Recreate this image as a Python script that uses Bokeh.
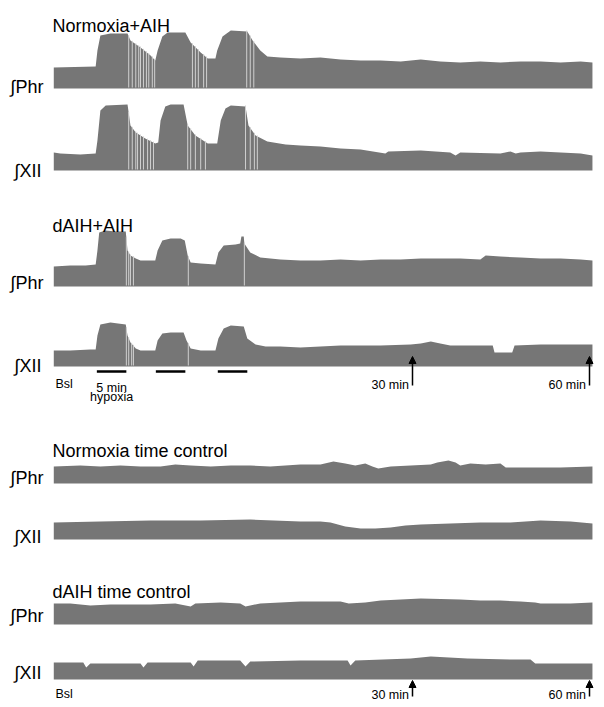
import numpy as np
from bokeh.plotting import figure
from bokeh.models import Range1d, Arrow, NormalHead
from bokeh.core.properties import value
from bokeh.embed import file_html
from bokeh.resources import INLINE

# ---------------- data (time in min relative to end of AIH; amplitude in a.u.) ----------------
# Normoxia+AIH, integrated phrenic
naih_phr_t = [-30.8,-23.7,-23.4,-22.9,-21.2,-18.3,-17.8,-16.1,-14.4,-13.6,-13.2,-12.4,-11.5,-8.5,-7.6,-5.9,-4.7,-3.4,-3.1,-2.2,
              -0.8,2.0,2.9,4.2,5.4,7.6,11.0,14.4,17.8,21.2,24.6,28.0,31.4,34.7,38.1,41.5,44.9,48.3,51.7,55.1,58.5,60.5]
naih_phr_a = [21,22,38,53,55,55,48,41,33,28,38,52,56,56,46,36,30,30,38,52,
              58,57,48,38,32,31,30,31,29,28,28,27,29,27,26,27,26,27,27,26,27,26]
# Normoxia+AIH, integrated XII
naih_xii_t = [-30.8,-29.7,-26.3,-23.7,-23.4,-22.9,-22.0,-18.3,-17.8,-16.9,-15.3,-13.6,-13.1,-12.7,-11.9,-11.0,-8.8,-8.1,-6.8,-4.7,
              -3.1,-2.5,-1.7,-0.8,1.7,2.2,3.4,5.4,8.5,11.0,14.4,17.8,21.2,25.4,25.9,31.4,36.4,37.3,38.1,44.9,46.6,47.5,48.3,51.7,55.1,58.5,60.5]
naih_xii_a = [18,17,16,17,30,60,65,66,45,38,32,27,28,50,64,66,66,45,35,27,
              27,50,62,65,64,45,35,29,26,25,24,22,21,17,19,20,18,15,18,17,19,17,18,19,18,17,15]
# dAIH+AIH, integrated phrenic
daih_phr_t = [-30.8,-28.0,-25.4,-23.7,-23.4,-23.1,-22.0,-20.3,-18.6,-18.3,-17.8,-16.9,-16.1,-14.4,-13.6,-13.2,-12.4,-11.0,-9.3,-8.6,
              -8.1,-7.6,-5.9,-3.4,-2.9,-2.0,0.0,0.8,1.0,1.4,1.5,2.5,4.2,7.6,11.0,14.4,17.8,21.2,24.6,28.0,
              31.4,34.7,38.1,41.5,42.4,44.9,48.3,51.7,55.1,58.5,60.5]
daih_phr_a = [20,21,21,22,36,54,56,55,55,36,31,28,26,26,26,36,46,48,48,46,
              31,24,23,22,34,41,42,43,50,50,43,34,29,27,26,26,27,26,27,27,
              28,28,28,27,31,30,29,28,28,27,26]
# dAIH+AIH, integrated XII
daih_xii_t = [-30.8,-28.0,-24.6,-23.7,-23.4,-22.9,-21.2,-18.6,-18.3,-17.8,-16.9,-16.1,-13.6,-13.2,-12.4,-11.0,-8.8,-8.3,-7.6,-5.9,
              -3.4,-2.9,-2.0,-0.8,1.4,2.0,3.4,5.1,7.6,11.0,17.8,24.6,29.7,31.4,33.1,34.7,36.4,41.5,43.6,43.9,46.9,47.3,51.7,56.8,60.5]
daih_xii_a = [16,16,17,17,31,42,44,42,31,24,18,16,16,26,33,34,34,26,18,16,
              16,28,38,41,40,28,22,20,20,19,21,21,22,23,25,23,21,21,21,14,14,21,22,22,22]
# Normoxia time control, phrenic
ntc_phr_t = [-30.8,-26.3,-22.9,-19.5,-16.1,-12.7,-10.2,-7.6,-4.2,-0.8,2.5,5.9,11.0,14.4,16.6,18.6,20.3,22.0,23.2,24.2,
             26.3,29.7,33.1,34.2,36.1,37.3,38.1,39.8,42.4,44.9,45.8,50.0,55.1,60.5]
ntc_phr_a = [17,18,17,18,17,17,19,18,17,18,18,17,19,19,22,20,18,20,17,15,
             17,18,19,21,23,21,18,20,19,20,16,16,16,17]
# Normoxia time control, XII
ntc_xii_t = [-30.8,-22.9,-14.4,-5.9,2.5,11.0,14.4,16.1,18.6,21.2,23.7,26.3,28.8,31.4,36.4,41.5,46.6,51.7,56.8,60.5]
ntc_xii_a = [17,18,19,19,20,18,18,17,13,11,11,12,14,15,16,17,17,19,18,16]
# dAIH time control, phrenic
dtc_phr_t = [-30.8,-28.0,-24.6,-21.2,-17.8,-14.4,-10.2,-7.6,-6.8,-2.5,0.8,1.7,4.2,7.6,11.0,17.8,19.2,22.0,24.6,28.0,
             31.4,38.1,41.5,44.9,48.3,50.8,51.7,56.8,60.5]
dtc_phr_a = [21,21,19,20,20,20,21,18,21,22,21,18,21,22,23,23,21,22,24,25,
             26,25,24,24,23,22,21,21,22]
# dAIH time control, XII
dtc_xii_t = [-30.8,-25.8,-25.3,-24.6,-16.1,-15.6,-14.9,-7.6,-7.1,-6.4,0.8,1.7,2.5,11.0,19.0,19.5,20.3,29.7,33.1,39.3,
             47.1,50.0,50.8,60.5]
dtc_xii_a = [17,17,12,16,16,12,17,17,13,19,19,13,18,19,19,14,19,21,23,21,20,20,16,16]

# dropped / low-amplitude bursts after each hypoxic episode (min)
naih_phr_gaps = [-18.1,-17.5,-16.9,-16.4,-16.1,-15.6,-15.1,-14.7,-14.1,-13.7,-7.3,-6.8,-6.3,-5.4,-4.9,1.9,2.5,3.1]
naih_xii_gaps = [-18.1,-17.5,-16.9,-16.6,-16.1,-15.6,-14.9,-14.4,-13.9,-8.1,-7.6,-6.8,-5.9,-5.1,1.7,2.5,3.2,3.7]
daih_phr_gaps = [-18.5,-18.1,-17.8,-17.3,-8.0,1.5]
daih_xii_gaps = [-18.5,-18.1,-17.6,-17.3,-8.0]

hypoxia_start = [-23.5, -13.5, -3.0]   # min
hypoxia_dur = 5.0                       # min
marks_min = [30, 60]
mark_labels = ["30 min", "60 min"]
group_titles = ["Normoxia+AIH", "dAIH+AIH", "Normoxia time control", "dAIH time control"]
channel_labels = ["\u222bPhr", "\u222bXII"]

# ---------------- layout ----------------
PX0, PXM = 235.0, 5.9           # page px of t = 0, px per minute
def X(px):
    return (px - PX0) / PXM

W, H = 598, 702
GRAY = "#767676"
LIGHT = "#d0d0d0"
FONT = value("Liberation Sans")

p = figure(width=W, height=H, output_backend="svg", toolbar_location=None,
           x_range=Range1d(X(0), X(W)), y_range=Range1d(H, 0),
           x_axis_location=None, y_axis_location=None, min_border=0)
p.grid.visible = False
p.outline_line_color = None
p.background_fill_color = "white"

traces = [
    (naih_phr_t, naih_phr_a, 88, naih_phr_gaps),
    (naih_xii_t, naih_xii_a, 170, naih_xii_gaps),
    (daih_phr_t, daih_phr_a, 286, daih_phr_gaps),
    (daih_xii_t, daih_xii_a, 366, daih_xii_gaps),
    (ntc_phr_t, ntc_phr_a, 483, []),
    (ntc_xii_t, ntc_xii_a, 539, []),
    (dtc_phr_t, dtc_phr_a, 624, []),
    (dtc_xii_t, dtc_xii_a, 679, []),
]
for t, a, base, gaps in traces:
    t = np.asarray(t, float); a = np.asarray(a, float)
    p.varea(x=t, y1=np.full_like(t, base), y2=base - a, fill_color=GRAY)
    if gaps:
        g = np.asarray(gaps, float)
        top = base - np.interp(g, t, a) - 1
        p.segment(x0=g, x1=g, y0=np.full_like(g, base - 1), y1=top, line_color=LIGHT, line_width=1)

# titles
title_y = [25, 225, 450, 591]
p.text(x=[X(52)] * 4, y=title_y, text=group_titles, text_font=FONT, text_font_size="18px",
       text_baseline="alphabetic", text_align="left", text_color="black")
# channel labels
phr_y = [86, 282, 477, 615]
xii_y = [170, 365, 536, 672]
p.text(x=[X(10)] * 4, y=phr_y, text=[channel_labels[0]] * 4, text_font=FONT, text_font_size="18px",
       text_baseline="alphabetic", text_align="left", text_color="black")
p.text(x=[X(14)] * 4, y=xii_y, text=[channel_labels[1]] * 4, text_font=FONT, text_font_size="18px",
       text_baseline="alphabetic", text_align="left", text_color="black")

# hypoxia bars
hs = np.asarray(hypoxia_start, float)
p.segment(x0=hs, x1=hs + hypoxia_dur, y0=[371] * 3, y1=[371] * 3, line_color="black", line_width=2.5)
p.text(x=[hs[0] + hypoxia_dur / 2] * 2, y=[387, 396], text=["5 min", "hypoxia"], text_font=FONT,
       text_font_size="12.5px", text_baseline="alphabetic", text_align="center", text_color="black")

# Bsl + time marks (two rows)
for yb, ya0, ya1 in [(383, 385, 356), (693, 696, 680)]:
    p.text(x=[X(55)], y=[yb], text=["Bsl"], text_font=FONT, text_font_size="12.5px",
           text_baseline="alphabetic", text_align="left", text_color="black")
    p.text(x=[m - 0.6 for m in marks_min], y=[yb + 1] * 2, text=mark_labels, text_font=FONT,
           text_font_size="12.5px", text_baseline="alphabetic", text_align="right", text_color="black")
    for m in marks_min:
        p.add_layout(Arrow(end=NormalHead(size=7, fill_color="black", line_color="black"),
                           x_start=m, y_start=ya0, x_end=m, y_end=ya1,
                           line_color="black", line_width=1.5))

open("out.html", "w").write(file_html(p, INLINE))
